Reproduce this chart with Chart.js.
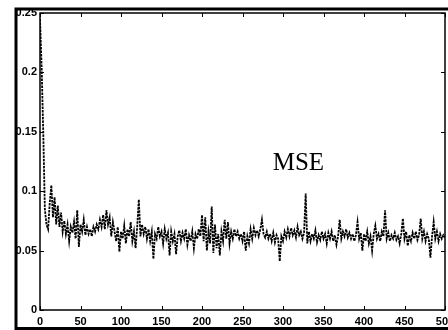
<!DOCTYPE html>
<html>
<head>
<meta charset="utf-8">
<script src="https://cdn.jsdelivr.net/npm/chart.js@4"></script>
<style>
  html, body { margin: 0; padding: 0; background: #fff; }
  #wrap { position: relative; width: 448px; height: 330px; }
</style>
</head>
<body>
<div id="wrap"><canvas id="mseChart" width="448" height="330"></canvas></div>
<script>
// iteration step (every 2nd iteration)
var xStep = 2;
var xTicks = [0, 50, 100, 150, 200, 250, 300, 350, 400, 450, 500];
var yTicks = [0, 0.05, 0.1, 0.15, 0.2, 0.25];
var yTickLabels = ['0', '0.05', '0.1', '0.15', '0.2', '0.25'];

// MSE values, x = 0, 2, 4, ... 500
var mse = [
  0.245, 0.205, 0.150, 0.085, 0.072, 0.068, 0.090, 0.105, 0.078, 0.095,
  0.072, 0.088, 0.070, 0.082, 0.066, 0.075, 0.064, 0.072, 0.058, 0.070,
  0.065, 0.074, 0.060, 0.084, 0.053, 0.072, 0.066, 0.076, 0.063, 0.070,
  0.064, 0.068, 0.062, 0.070, 0.066, 0.072, 0.068, 0.076, 0.070, 0.080,
  0.068, 0.084, 0.072, 0.078, 0.062, 0.074, 0.066, 0.058, 0.070, 0.049,
  0.066, 0.060, 0.071, 0.056, 0.068, 0.062, 0.074, 0.058, 0.066, 0.052,
  0.070, 0.093, 0.062, 0.072, 0.064, 0.070, 0.060, 0.068, 0.058, 0.066,
  0.043, 0.064, 0.060, 0.070, 0.062, 0.066, 0.056, 0.068, 0.060, 0.065,
  0.046, 0.066, 0.058, 0.064, 0.047, 0.062, 0.067, 0.058, 0.065, 0.060,
  0.068, 0.055, 0.063, 0.058, 0.066, 0.052, 0.064, 0.060, 0.068, 0.062,
  0.080, 0.058, 0.078, 0.050, 0.066, 0.056, 0.087, 0.048, 0.072, 0.052,
  0.064, 0.046, 0.066, 0.058, 0.076, 0.060, 0.074, 0.056, 0.066, 0.060,
  0.068, 0.062, 0.066, 0.060, 0.064, 0.058, 0.066, 0.050, 0.062, 0.056,
  0.068, 0.060, 0.069, 0.063, 0.067, 0.062, 0.068, 0.076, 0.064, 0.061,
  0.066, 0.060, 0.064, 0.058, 0.065, 0.057, 0.063, 0.060, 0.041, 0.062,
  0.058, 0.066, 0.061, 0.068, 0.062, 0.069, 0.063, 0.067, 0.061, 0.070,
  0.063, 0.066, 0.060, 0.065, 0.098, 0.056, 0.066, 0.058, 0.064, 0.060,
  0.067, 0.057, 0.063, 0.059, 0.066, 0.060, 0.064, 0.056, 0.065, 0.060,
  0.066, 0.058, 0.063, 0.055, 0.062, 0.076, 0.060, 0.066, 0.062, 0.068,
  0.061, 0.065, 0.060, 0.064, 0.058, 0.063, 0.074, 0.060, 0.065, 0.050,
  0.064, 0.058, 0.066, 0.056, 0.062, 0.050, 0.064, 0.071, 0.060, 0.064,
  0.058, 0.066, 0.062, 0.084, 0.060, 0.065, 0.058, 0.063, 0.060, 0.065,
  0.059, 0.062, 0.056, 0.064, 0.077, 0.060, 0.066, 0.054, 0.063, 0.058,
  0.065, 0.060, 0.066, 0.059, 0.063, 0.077, 0.060, 0.066, 0.058, 0.064,
  0.060, 0.044, 0.062, 0.074, 0.060, 0.066, 0.058, 0.064, 0.060, 0.063,
  0.061
];

var points = [];
for (var i = 0; i < mse.length; i++) {
  points.push({ x: i * xStep, y: mse[i] });
}

var tickFont = { family: 'Liberation Sans', size: 11, weight: 'bold' };

// box, inward ticks, outer frame and the MSE label
var matlabBox = {
  id: 'matlabBox',
  afterDraw: function (chart) {
    var ctx = chart.ctx;
    var a = chart.chartArea;
    var xs = chart.scales.x, ys = chart.scales.y;
    ctx.save();
    ctx.strokeStyle = '#000';
    ctx.lineWidth = 1.5;
    ctx.strokeRect(a.left, a.top, a.right - a.left, a.bottom - a.top);
    ctx.lineWidth = 1;
    ctx.beginPath();
    xTicks.forEach(function (t) {
      var px = Math.round(xs.getPixelForValue(t)) + 0.5;
      ctx.moveTo(px, a.bottom); ctx.lineTo(px, a.bottom - 4);
      ctx.moveTo(px, a.top); ctx.lineTo(px, a.top + 4);
    });
    yTicks.forEach(function (t) {
      var py = Math.round(ys.getPixelForValue(t)) + 0.5;
      ctx.moveTo(a.left, py); ctx.lineTo(a.left + 4, py);
      ctx.moveTo(a.right, py); ctx.lineTo(a.right - 4, py);
    });
    ctx.stroke();
    // outer frame of the scanned figure
    ctx.lineWidth = 3;
    ctx.beginPath();
    ctx.moveTo(16, 331); ctx.lineTo(16, 9); ctx.lineTo(449, 9);
    ctx.moveTo(16, 328.5); ctx.lineTo(449, 328.5);
    ctx.stroke();
    ctx.fillStyle = '#000';
    ctx.font = '25px "Liberation Serif"';
    ctx.textAlign = 'center';
    ctx.textBaseline = 'middle';
    ctx.fillText('MSE', xs.getPixelForValue(319), ys.getPixelForValue(0.123));
    ctx.restore();
  }
};

new Chart(document.getElementById('mseChart'), {
  type: 'line',
  data: {
    datasets: [{
      data: points,
      borderColor: '#000',
      borderWidth: 1.8,
      borderDash: [2.5, 1],
      pointRadius: 0,
      tension: 0
    }]
  },
  options: {
    responsive: false,
    animation: false,
    layout: { padding: { top: 13, right: 3, left: 0, bottom: 0 } },
    plugins: { legend: { display: false }, tooltip: { enabled: false } },
    scales: {
      x: {
        type: 'linear',
        min: 0,
        max: 500,
        afterBuildTicks: function (s) { s.ticks = xTicks.map(function (v) { return { value: v }; }); },
        afterFit: function (s) { s.height = 20; s.paddingLeft = 0; s.paddingRight = 0; },
        grid: { display: false, drawTicks: false },
        border: { display: false },
        ticks: { color: '#000', font: tickFont, padding: 5, maxRotation: 0, autoSkip: false }
      },
      y: {
        min: 0,
        max: 0.25,
        afterBuildTicks: function (s) { s.ticks = yTicks.map(function (v) { return { value: v }; }); },
        afterFit: function (s) { s.width = 40; s.paddingTop = 0; s.paddingBottom = 0; },
        grid: { display: false, drawTicks: false },
        border: { display: false },
        ticks: {
          color: '#000', font: tickFont, padding: 3, autoSkip: false,
          callback: function (v) { return yTickLabels[yTicks.indexOf(v)]; }
        }
      }
    }
  },
  plugins: [matlabBox]
});
</script>
</body>
</html>
